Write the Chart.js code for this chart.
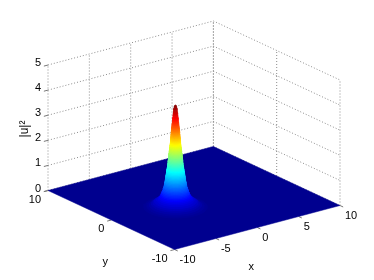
<!DOCTYPE html>
<html>
<head>
<meta charset="utf-8">
<style>
  html, body { margin: 0; padding: 0; background: #fff; }
  canvas { display: block; filter: blur(0.4px); }
</style>
<script src="https://cdn.jsdelivr.net/npm/chart.js@4/dist/chart.umd.min.js"></script>
</head>
<body>
<canvas id="chart" width="374" height="280"></canvas>
<script>
const xTicks = [-10, -5, 0, 5, 10];
const yTicks = [-10, 0, 10];
const zTicks = [0, 1, 2, 3, 4, 5];

// peak, one radius per height level
const peakX = -3;
const peakY = -1;
const peakRadius = [3.05, 2.75, 2.5, 2.3, 2.15, 2.0, 1.8, 1.65, 1.55, 1.47, 1.4, 1.35, 1.3, 1.25, 1.21, 1.17, 1.13, 1.1, 1.07, 1.05, 1.03, 1.01, 0.99, 0.97, 0.95, 0.93, 0.91, 0.89, 0.87, 0.85, 0.83, 0.81, 0.79, 0.77, 0.75, 0.74, 0.725, 0.715, 0.7, 0.69, 0.68, 0.665, 0.655, 0.64, 0.62, 0.605, 0.59, 0.575, 0.56, 0.545, 0.53, 0.515, 0.505, 0.495, 0.485, 0.475, 0.465, 0.455, 0.44, 0.43, 0.42, 0.41, 0.395, 0.38, 0.37, 0.355, 0.34, 0.33, 0.315, 0.3, 0.29, 0.28, 0.265, 0.25, 0.24, 0.23, 0.215, 0.2, 0.19, 0.17, 0.14, 0.12, 0.08, 0.02];
const peakHeight = [0.03, 0.06, 0.1, 0.15, 0.2, 0.25, 0.3, 0.35, 0.4, 0.45, 0.5, 0.55, 0.6, 0.65, 0.7, 0.75, 0.8, 0.85, 0.9, 0.95, 1.0, 1.05, 1.1, 1.15, 1.2, 1.25, 1.3, 1.35, 1.4, 1.45, 1.5, 1.55, 1.6, 1.65, 1.7, 1.75, 1.8, 1.85, 1.9, 1.95, 2.0, 2.05, 2.1, 2.15, 2.2, 2.25, 2.3, 2.35, 2.4, 2.45, 2.5, 2.55, 2.6, 2.65, 2.7, 2.75, 2.8, 2.85, 2.9, 2.95, 3.0, 3.05, 3.1, 3.15, 3.2, 3.25, 3.3, 3.35, 3.4, 3.45, 3.5, 3.55, 3.6, 3.65, 3.7, 3.75, 3.8, 3.85, 3.9, 3.94, 3.98, 4.02, 4.06, 4.09];

const jetStops = [[0, 0, 143], [0, 0, 255], [0, 255, 255], [255, 255, 0], [255, 0, 0], [128, 0, 0]];
const jetAt = [0, 0.111, 0.365, 0.619, 0.873, 1];

// view of the 3D box on the flat chart scales
const view = { cx: 194, cy: 198, xx: 8.27, xy: -2.2, yx: -6.33, yy: -2.95, zy: -25.1 };

function project(x, y, z) {
  return {
    x: view.cx + x * view.xx + y * view.yx,
    y: view.cy + x * view.xy + y * view.yy + z * view.zy,
  };
}

function jet(t) {
  let i = 0;
  while (i < jetAt.length - 2 && t > jetAt[i + 1]) i++;
  const f = Math.min(1, (t - jetAt[i]) / (jetAt[i + 1] - jetAt[i]));
  const c = jetStops[i].map((v, k) => Math.round(v + (jetStops[i + 1][k] - v) * f));
  return `rgb(${c[0]}, ${c[1]}, ${c[2]})`;
}

const datasets = [];

function addLine(points, color, dash) {
  datasets.push({
    data: points,
    borderColor: color,
    borderWidth: 1,
    borderDash: dash,
    pointRadius: 0,
    showLine: true,
    fill: false,
  });
}

function addShape(points, color, border) {
  datasets.push({
    data: points,
    borderColor: color,
    backgroundColor: color,
    borderWidth: border,
    pointRadius: 0,
    showLine: true,
    fill: "shape",
  });
}

const gridColor = "#8c8c8c";
const gridDash = [1, 2];
const tickColor = "#777";

// walls
zTicks.forEach((z) => {
  addLine([project(-10, 10, z), project(10, 10, z), project(10, -10, z)], gridColor, gridDash);
  addLine([project(-10, 10, z), project(-10.5, 10, z)], tickColor);
});
xTicks.forEach((x) => {
  addLine([project(x, 10, 0), project(x, 10, 5)], gridColor, gridDash);
  addLine([project(x, -10, 0), project(x, -10.5, 0)], tickColor);
});
yTicks.forEach((y) => {
  addLine([project(10, y, 0), project(10, y, 5)], gridColor, gridDash);
  addLine([project(-10, y, 0), project(-10.5, y, 0)], tickColor);
});

// floor
addShape([project(-10, 10, 0), project(10, 10, 0), project(10, -10, 0), project(-10, -10, 0), project(-10, 10, 0)], jet(0), 0.5);

// peak, painted from the bottom ring up
const peakTop = Math.max(...peakHeight);
peakHeight.forEach((z, i) => {
  const ring = [];
  for (let a = 0; a <= 48; a++) {
    const t = (a / 48) * 2 * Math.PI;
    ring.push(project(peakX + peakRadius[i] * Math.cos(t), peakY + peakRadius[i] * Math.sin(t), z));
  }
  addShape(ring, jet(z / peakTop), 1);
});

// later datasets go on top
datasets.forEach((d, i) => { d.order = datasets.length - i; });

const labelPlugin = {
  id: "boxLabels",
  afterDraw(chart) {
    const ctx = chart.ctx;
    const sx = chart.scales.x;
    const sy = chart.scales.y;
    function put(text, p, dx, dy, align) {
      ctx.textAlign = align;
      ctx.fillText(text, sx.getPixelForValue(p.x) + dx, sy.getPixelForValue(p.y) + dy);
    }
    ctx.save();
    ctx.font = "11px 'Liberation Sans'";
    ctx.fillStyle = "#000";
    ctx.textBaseline = "middle";
    zTicks.forEach((z) => put(String(z), project(-10, 10, z), -7, -2, "right"));
    yTicks.forEach((y) => put(String(y), project(-10, y, 0), -7, 9, "right"));
    xTicks.forEach((x) => put(String(x), project(x, -10, 0), 5, 10, "left"));
    put("x", project(0, -10, 0), -6, 39, "center");
    put("y", project(-10, 0, 0), -6, 42, "center");
    ctx.font = "12px 'Liberation Sans'";
    ctx.translate(25, 129);
    ctx.rotate(-Math.PI / 2);
    ctx.textAlign = "center";
    ctx.fillText("|u|²", 0, 0);
    ctx.restore();
  },
};

new Chart(document.getElementById("chart").getContext("2d"), {
  type: "scatter",
  data: { datasets },
  options: {
    responsive: false,
    animation: false,
    events: [],
    layout: { padding: 0 },
    plugins: { legend: { display: false }, tooltip: { enabled: false } },
    scales: {
      x: { type: "linear", display: false, min: 0, max: 374 },
      y: { type: "linear", display: false, min: 0, max: 280, reverse: true },
    },
  },
  plugins: [labelPlugin],
});
</script>
</body>
</html>
